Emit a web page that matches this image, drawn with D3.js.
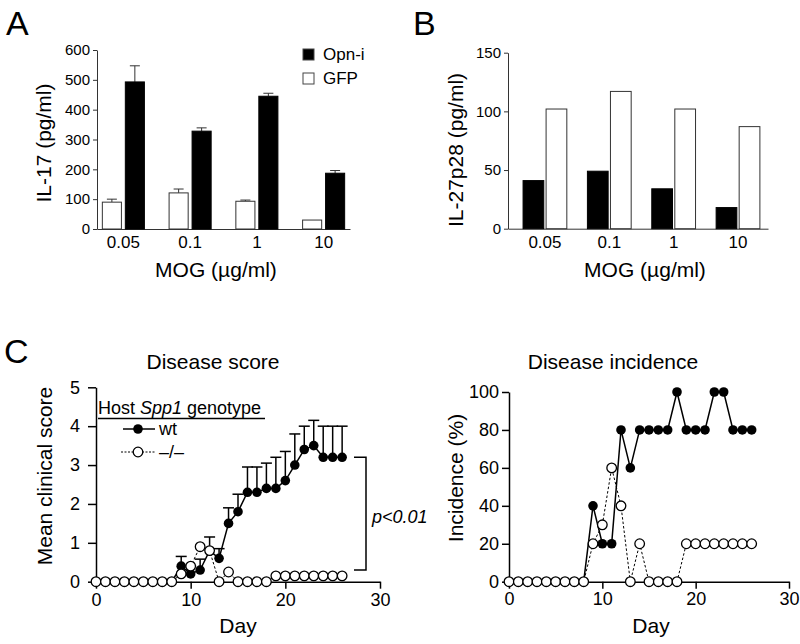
<!DOCTYPE html>
<html>
<head>
<meta charset="utf-8">
<script src="https://cdn.jsdelivr.net/npm/d3@7"></script>
<style>
  body { margin: 0; background: #fff; }
  svg text { font-family: "Liberation Sans", Arial, Helvetica, sans-serif; fill: #000; }
</style>
</head>
<body>
<svg id="fig" width="800" height="644"></svg>
<script>
// ---- data ----
const doses = ["0.05", "0.1", "1", "10"];

// A: IL-17 (pg/ml)
const il17Opn = [493, 328, 445, 187];
const il17OpnErr = [54, 11, 10, 9];
const il17Gfp = [90, 121, 93, 30];
const il17GfpErr = [10, 13, 4, 0];

// B: IL-27p28 (pg/ml)
const il27Opn = [41, 49, 34, 18];
const il27Gfp = [102, 117, 102, 87];

// C: EAE course
const days = [0, 1, 2, 3, 4, 5, 6, 7, 8, 9, 10, 11, 12, 13, 14, 15, 16, 17, 18, 19, 20, 21, 22, 23, 24, 25, 26];
const scoreWt = [0, 0, 0, 0, 0, 0, 0, 0, 0, 0.4, 0.2, 0.3, 0.8, 0.6, 1.5, 1.8, 2.3, 2.3, 2.4, 2.4, 2.6, 3.0, 3.4, 3.5, 3.2, 3.2, 3.2];
const scoreWtErr = [0, 0, 0, 0, 0, 0, 0, 0, 0, 0.25, 0.2, 0.28, 0.35, 0.25, 0.4, 0.45, 0.65, 0.65, 0.65, 0.8, 0.75, 0.8, 0.6, 0.65, 0.8, 0.8, 0.8];
const scoreKo = [0, 0, 0, 0, 0, 0, 0, 0, 0, 0.2, 0.4, 0.9, 0.8, 0, 0.25, 0, 0, 0, 0, 0.15, 0.15, 0.15, 0.15, 0.15, 0.15, 0.15, 0.15];
const incWt = [0, 0, 0, 0, 0, 0, 0, 0, 0, 40, 20, 20, 80, 60, 80, 80, 80, 80, 100, 80, 80, 80, 100, 100, 80, 80, 80];
const incKo = [0, 0, 0, 0, 0, 0, 0, 0, 0, 20, 30, 60, 40, 0, 20, 0, 0, 0, 0, 20, 20, 20, 20, 20, 20, 20, 20];

const svg = d3.select("#fig");

// panel letters
svg.append("text").attr("x", 6).attr("y", 35).attr("font-size", 34).text("A");
svg.append("text").attr("x", 413).attr("y", 35).attr("font-size", 34).text("B");
svg.append("text").attr("x", 4).attr("y", 363).attr("font-size", 34).text("C");

function styleAxis(g, size, stroke, width) {
  g.attr("font-family", null).attr("font-size", size);
  g.selectAll("path, line").attr("stroke", stroke).attr("stroke-width", width);
}

//---------------- A ----------------
const xA = d3.scaleBand().domain(doses).range([97, 350]).paddingInner(0.37).paddingOuter(0.08);
const subA = d3.scaleBand().domain(["gfp", "opn"]).range([0, xA.bandwidth()]).paddingInner(0.17);
const yA = d3.scaleLinear().domain([0, 600]).range([229, 50]);

const gA = svg.append("g");
gA.append("g")
  .attr("transform", "translate(97,0)")
  .call(d3.axisLeft(yA).tickValues([0, 100, 200, 300, 400, 500, 600]).tickSize(4).tickSizeOuter(0).tickPadding(3))
  .call((g) => styleAxis(g, 15, "#333", 1));
gA.append("g")
  .attr("transform", "translate(0,229)")
  .call(d3.axisBottom(xA).tickSize(0).tickSizeOuter(0).tickPadding(7))
  .call((g) => styleAxis(g, 17, "#333", 1));

const barsA = doses.map((d, i) => [
  { dose: d, key: "gfp", v: il17Gfp[i], e: il17GfpErr[i] },
  { dose: d, key: "opn", v: il17Opn[i], e: il17OpnErr[i] },
]).flat();

const cellA = gA.selectAll(".barA").data(barsA).enter().append("g").attr("class", "barA");
cellA.append("line")
  .attr("x1", (d) => xA(d.dose) + subA(d.key) + subA.bandwidth() / 2)
  .attr("x2", (d) => xA(d.dose) + subA(d.key) + subA.bandwidth() / 2)
  .attr("y1", (d) => yA(d.v))
  .attr("y2", (d) => yA(d.v + d.e))
  .attr("stroke", "#333").attr("stroke-width", 1);
cellA.filter((d) => d.e > 0).append("line")
  .attr("x1", (d) => xA(d.dose) + subA(d.key) + subA.bandwidth() / 2 - 5)
  .attr("x2", (d) => xA(d.dose) + subA(d.key) + subA.bandwidth() / 2 + 5)
  .attr("y1", (d) => yA(d.v + d.e))
  .attr("y2", (d) => yA(d.v + d.e))
  .attr("stroke", "#333").attr("stroke-width", 1);
cellA.append("rect")
  .attr("x", (d) => xA(d.dose) + subA(d.key))
  .attr("y", (d) => yA(d.v))
  .attr("width", subA.bandwidth())
  .attr("height", (d) => yA(0) - yA(d.v))
  .attr("fill", (d) => (d.key === "opn" ? "#000" : "#fff"))
  .attr("stroke", (d) => (d.key === "opn" ? "#000" : "#333"))
  .attr("stroke-width", 1);

gA.append("text")
  .attr("transform", "translate(51,143) rotate(-90)")
  .attr("text-anchor", "middle").attr("font-size", 21)
  .text("IL-17 (pg/ml)");
gA.append("text")
  .attr("x", 216).attr("y", 277)
  .attr("text-anchor", "middle").attr("font-size", 21)
  .text("MOG (\u00b5g/ml)");

// legend
const legA = gA.append("g").attr("transform", "translate(303,49)");
[["Opn-i", "#000"], ["GFP", "#fff"]].forEach((s, i) => {
  legA.append("rect").attr("x", 0).attr("y", i * 24).attr("width", 11).attr("height", 11)
    .attr("fill", s[1]).attr("stroke", "#444").attr("stroke-width", 1);
  legA.append("text").attr("x", 20).attr("y", i * 24 + 11).attr("font-size", 17).text(s[0]);
});

//---------------- B ----------------
const xB = d3.scaleBand().domain(doses).range([508, 768]).paddingInner(0.32).paddingOuter(0.18).align(0.65);
const subB = d3.scaleBand().domain(["opn", "gfp"]).range([0, xB.bandwidth()]).paddingInner(0.1);
const yB = d3.scaleLinear().domain([0, 150]).range([228.7, 52.7]);

const gB = svg.append("g");
gB.append("g")
  .attr("transform", "translate(508,0)")
  .call(d3.axisLeft(yB).tickValues([0, 50, 100, 150]).tickSize(4).tickSizeOuter(0).tickPadding(3))
  .call((g) => styleAxis(g, 15, "#333", 1));
gB.append("g")
  .attr("transform", "translate(0,228.7)")
  .call(d3.axisBottom(xB).tickSize(0).tickSizeOuter(0).tickPadding(7))
  .call((g) => styleAxis(g, 17, "#333", 1));

const barsB = doses.map((d, i) => [
  { dose: d, key: "opn", v: il27Opn[i] },
  { dose: d, key: "gfp", v: il27Gfp[i] },
]).flat();

gB.selectAll(".barB").data(barsB).enter().append("rect")
  .attr("class", "barB")
  .attr("x", (d) => xB(d.dose) + subB(d.key))
  .attr("y", (d) => yB(d.v))
  .attr("width", subB.bandwidth())
  .attr("height", (d) => yB(0) - yB(d.v))
  .attr("fill", (d) => (d.key === "opn" ? "#000" : "#fff"))
  .attr("stroke", (d) => (d.key === "opn" ? "#000" : "#333"))
  .attr("stroke-width", 1);

gB.append("text")
  .attr("transform", "translate(463,150) rotate(-90)")
  .attr("text-anchor", "middle").attr("font-size", 21)
  .text("IL-27p28 (pg/ml)");
gB.append("text")
  .attr("x", 645).attr("y", 277)
  .attr("text-anchor", "middle").attr("font-size", 21)
  .text("MOG (\u00b5g/ml)");

//---------------- C helpers ----------------
const R = 4.8;

function drawCourse(g, x, y, wt, ko, wtErr) {
  const line = d3.line().x((d) => x(d[0])).y((d) => y(d[1]));
  const wtPts = days.map((d, i) => [d, wt[i], wtErr ? wtErr[i] : 0]);
  const koPts = days.map((d, i) => [d, ko[i]]);

  if (wtErr) {
    const eb = g.append("g").selectAll("g").data(wtPts.filter((d) => d[2] > 0)).enter().append("g");
    eb.append("line")
      .attr("x1", (d) => x(d[0])).attr("x2", (d) => x(d[0]))
      .attr("y1", (d) => y(d[1])).attr("y2", (d) => y(d[1] + d[2]))
      .attr("stroke", "#000").attr("stroke-width", 1.5);
    eb.append("line")
      .attr("x1", (d) => x(d[0]) - 5.5).attr("x2", (d) => x(d[0]) + 5.5)
      .attr("y1", (d) => y(d[1] + d[2])).attr("y2", (d) => y(d[1] + d[2]))
      .attr("stroke", "#000").attr("stroke-width", 1.5);
  }

  g.append("path").datum(wtPts).attr("d", line)
    .attr("fill", "none").attr("stroke", "#000").attr("stroke-width", 1.5);
  g.append("g").selectAll("circle").data(wtPts).enter().append("circle")
    .attr("cx", (d) => x(d[0])).attr("cy", (d) => y(d[1])).attr("r", R)
    .attr("fill", "#000");

  g.append("path").datum(koPts).attr("d", line)
    .attr("fill", "none").attr("stroke", "#000").attr("stroke-width", 1)
    .attr("stroke-dasharray", "2.5,2");
  g.append("g").selectAll("circle").data(koPts).enter().append("circle")
    .attr("cx", (d) => x(d[0])).attr("cy", (d) => y(d[1])).attr("r", R)
    .attr("fill", "#fff").attr("stroke", "#000").attr("stroke-width", 1.3);
}

//---------------- C: disease score ----------------
const xS = d3.scaleLinear().domain([0, 30]).range([96, 380]);
const yS = d3.scaleLinear().domain([0, 5]).range([581.7, 387.3]);
const gS = svg.append("g");

gS.append("g")
  .attr("transform", "translate(96,0)")
  .call(d3.axisLeft(yS).ticks(5).tickSize(8).tickSizeOuter(0).tickPadding(8))
  .call((g) => styleAxis(g, 18, "#000", 1.5));
gS.append("g")
  .attr("transform", "translate(0,581.7)")
  .call(d3.axisBottom(xS).tickValues([0, 10, 20, 30]).tickSize(7).tickSizeOuter(0).tickPadding(5))
  .call((g) => styleAxis(g, 18, "#000", 1.5));

drawCourse(gS, xS, yS, scoreWt, scoreKo, scoreWtErr);

gS.append("text").attr("x", 213).attr("y", 369).attr("text-anchor", "middle").attr("font-size", 21).text("Disease score");
gS.append("text")
  .attr("transform", "translate(52,476) rotate(-90)")
  .attr("text-anchor", "middle").attr("font-size", 21)
  .text("Mean clinical score");
gS.append("text").attr("x", 238).attr("y", 633).attr("text-anchor", "middle").attr("font-size", 21).text("Day");

// legend
const legTitle = gS.append("text").attr("x", 98).attr("y", 414).attr("font-size", 18);
legTitle.append("tspan").text("Host ");
legTitle.append("tspan").attr("font-style", "italic").text("Spp1");
legTitle.append("tspan").text(" genotype");
gS.append("line").attr("x1", 98).attr("x2", 265).attr("y1", 418.5).attr("y2", 418.5)
  .attr("stroke", "#000").attr("stroke-width", 1.5);

gS.append("line").attr("x1", 123).attr("x2", 155).attr("y1", 429).attr("y2", 429)
  .attr("stroke", "#000").attr("stroke-width", 1.5);
gS.append("circle").attr("cx", 138).attr("cy", 429).attr("r", R).attr("fill", "#000");
gS.append("text").attr("x", 159).attr("y", 435).attr("font-size", 18).text("wt");

gS.append("line").attr("x1", 121).attr("x2", 155).attr("y1", 452).attr("y2", 452)
  .attr("stroke", "#000").attr("stroke-width", 1).attr("stroke-dasharray", "2,1.5");
gS.append("circle").attr("cx", 138).attr("cy", 452).attr("r", R)
  .attr("fill", "#fff").attr("stroke", "#000").attr("stroke-width", 1.3);
gS.append("text").attr("x", 159).attr("y", 458).attr("font-size", 18).text("\u2013/\u2013");

// significance bracket
const bTop = yS(scoreWt[scoreWt.length - 1]);
const bBot = yS(0.3);
gS.append("path")
  .attr("d", `M354,${bTop}H366V${bBot}H354`)
  .attr("fill", "none").attr("stroke", "#000").attr("stroke-width", 1.5);
gS.append("text").attr("x", 372).attr("y", 523).attr("font-size", 18).attr("font-style", "italic").text("p<0.01");

//---------------- C: disease incidence ----------------
const xI = d3.scaleLinear().domain([0, 30]).range([509, 789]);
const yI = d3.scaleLinear().domain([0, 100]).range([581.7, 392]);
const gI = svg.append("g");

gI.append("g")
  .attr("transform", "translate(509,0)")
  .call(d3.axisLeft(yI).tickValues([0, 20, 40, 60, 80, 100]).tickSize(7).tickSizeOuter(0).tickPadding(3))
  .call((g) => styleAxis(g, 18, "#000", 1.5));
gI.append("g")
  .attr("transform", "translate(0,581.7)")
  .call(d3.axisBottom(xI).tickValues([0, 10, 20, 30]).tickSize(7).tickSizeOuter(0).tickPadding(4))
  .call((g) => styleAxis(g, 18, "#000", 1.5));

drawCourse(gI, xI, yI, incWt, incKo, null);

gI.append("text").attr("x", 613).attr("y", 369).attr("text-anchor", "middle").attr("font-size", 21).text("Disease incidence");
gI.append("text")
  .attr("transform", "translate(463,478) rotate(-90)")
  .attr("text-anchor", "middle").attr("font-size", 21)
  .text("Incidence (%)");
gI.append("text").attr("x", 651).attr("y", 633).attr("text-anchor", "middle").attr("font-size", 21).text("Day");
</script>
</body>
</html>
